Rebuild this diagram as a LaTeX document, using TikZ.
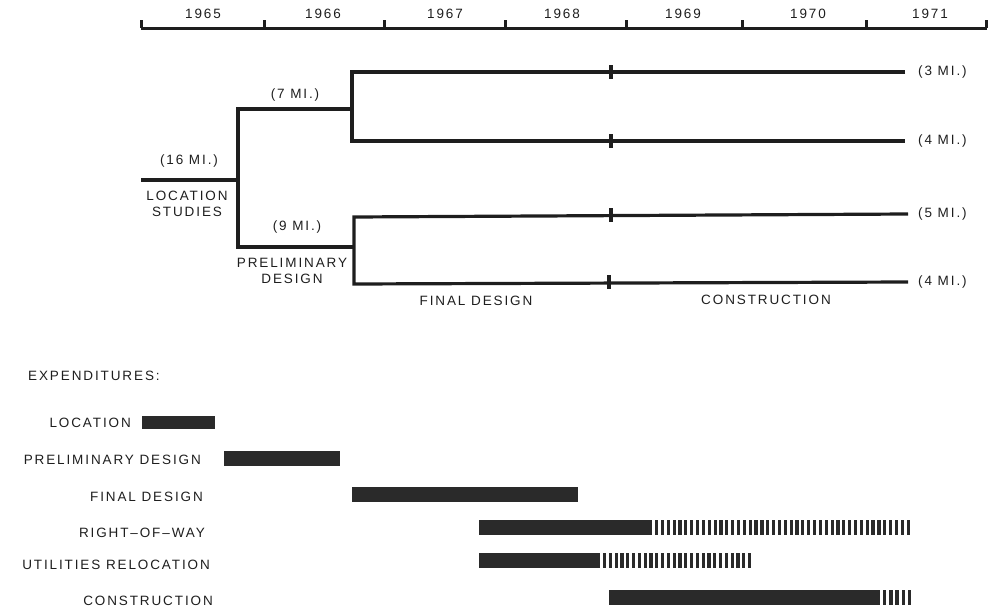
\documentclass[tikz,border=0pt]{standalone}
\usepackage{fontspec}
\setmainfont{Liberation Sans}[LetterSpace=14]
\definecolor{ink}{HTML}{1E1E1E}
\definecolor{barc}{HTML}{2A2A2A}
\begin{document}
\begin{tikzpicture}[x=1pt,y=-1pt,
  lbl/.style={inner sep=0pt, text=ink, font=\fontsize{13.5}{16}\selectfont},
  axisline/.style={line width=3pt, draw=ink},
  tree/.style={line width=3.2pt, draw=ink, line join=miter},
  yeartick/.style={line width=3pt, draw=ink},
  miletick/.style={line width=3.4pt, draw=ink},
  solidbar/.style={fill=barc},
  stripe/.style={fill=barc}]
\useasboundingbox (0,0) rectangle (997,613);

% ---------- time axis ----------
\coordinate (a0) at (141,28);
\coordinate (a7) at (987,28);
\draw[axisline] (a0) -- (a7);
\foreach \x/\n in {141/t0,264/t1,384/t2,505/t3,626/t4,742/t5,866/t6,986/t7}{
  \coordinate (\n) at (\x,28);
  \draw[yeartick] (\n) -- ++(0,-8);
}
\foreach \x/\yr in {203/1965,323/1966,445/1967,562/1968,683/1969,808/1970,930/1971}{
  \node[lbl] (y\yr) at (\x,14) {\yr};
}

% ---------- route tree ----------
\coordinate (s) at (141,180);
\coordinate (j1) at (238,180);
\coordinate (j1t) at (238,109);
\coordinate (j1b) at (238,247);
\coordinate (j2) at (352,109);
\coordinate (j2t) at (352,72);
\coordinate (j2b) at (352,141);
\coordinate (j3) at (354,247);
\coordinate (j3t) at (354,217);
\coordinate (j3b) at (354,284);
\coordinate (e1) at (905,72);
\coordinate (e2) at (905,141);
\coordinate (e3) at (908,214);
\coordinate (e4) at (908,282);

\draw[tree] (s) -- (j1);
\draw[tree] (j2) -- (j1t) -- (j1b) -- (j3);
\draw[tree] (e1) -- (j2t) -- (j2b) -- (e2);
\draw[tree] (e3) -- (j3t) -- (j3b) -- (e4);

\foreach \x/\y/\n in {611/72/m1,611/141/m2,611/215/m3,609/282/m4}{
  \coordinate (\n) at (\x,\y);
  \draw[miletick] (\x,\y-7) -- (\x,\y+7);
}

\node[lbl] (l16) at (189,161) {(16 MI.)};
\node[lbl, align=center] (lloc) at (187,204) {LOCATION\\STUDIES};
\node[lbl] (l7) at (295,95) {(7 MI.)};
\node[lbl] (l9) at (297,227) {(9 MI.)};
\node[lbl, align=center] (lpre) at (292,271) {PRELIMINARY\\DESIGN};
\node[lbl] (lfin) at (476,301) {FINAL DESIGN};
\node[lbl] (lcon) at (766,300) {CONSTRUCTION};
\node[lbl, anchor=west] (r1) at (918,72) {(3 MI.)};
\node[lbl, anchor=west] (r2) at (918,141) {(4 MI.)};
\node[lbl, anchor=west] (r3) at (918,214) {(5 MI.)};
\node[lbl, anchor=west] (r4) at (918,282) {(4 MI.)};

% ---------- expenditures ----------
\node[lbl, anchor=west] (exp) at (28,376) {EXPENDITURES:};

\node[lbl, anchor=east] (c1) at (131,423) {LOCATION};
\node[lbl, anchor=east] (c2) at (201,460) {PRELIMINARY DESIGN};
\node[lbl, anchor=east] (c3) at (203,497) {FINAL DESIGN};
\node[lbl, anchor=east] (c4) at (205,533) {RIGHT--OF--WAY};
\node[lbl, anchor=east] (c5) at (210,565) {UTILITIES RELOCATION};
\node[lbl, anchor=east] (c6) at (213,601) {CONSTRUCTION};

\fill[solidbar] (142,416) rectangle (215,429);
\fill[solidbar] (224,451) rectangle (340,466);
\fill[solidbar] (352,487) rectangle (578,502);
\fill[solidbar] (479,520) rectangle (652,535);
\fill[solidbar] (479,553) rectangle (600,568);
\fill[solidbar] (609,590) rectangle (880,605);

\foreach \i in {0,...,43}{
  \fill[stripe] (655+\i*5.85,520) rectangle ++(3.2,15);
}
\foreach \i in {0,...,25}{
  \fill[stripe] (603+\i*5.8,553) rectangle ++(3.2,15);
}
\foreach \i in {0,...,4}{
  \fill[stripe] (883+\i*6.2,590) rectangle ++(3.4,15);
}
\end{tikzpicture}
\end{document}
